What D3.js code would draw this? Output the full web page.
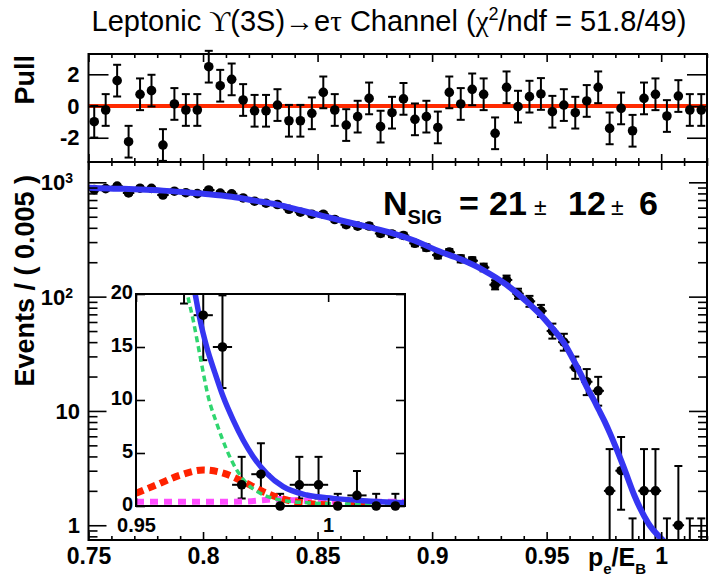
<!DOCTYPE html>
<html>
<head>
<meta charset="utf-8">
<script src="https://cdn.jsdelivr.net/npm/d3@7"></script>
<style>
  body { margin: 0; background: #fff; }
  svg { display: block; }
  text { font-family: "Liberation Sans", Arial, Helvetica, sans-serif; fill: #000; }
</style>
</head>
<body>
<svg id="chart" width="711" height="581"></svg>
<script>
// Histogram: 54 bins of 0.005 from 0.75 to 1.02
const xMin = 0.75, xMax = 1.02, binWidth = 0.005;

const counts = [863, 880, 926, 807, 888, 885, 774, 836, 811, 796,
                858, 806, 794, 730, 684, 657, 640, 581, 548, 526,
                526, 473, 426, 414, 415, 357, 352, 343, 293, 269,
                231, 245, 214, 206, 180, 127, 140, 106, 91, 75,
                50, 40, 24, 18, 15, 2, 3, 0, 2, 2,
                0, 1, 0, 0];

const pulls = [-0.99, -0.25, 1.6, -2.25, 0.74, 0.97, -2.46, 0.13, -0.25, -0.25,
               2.48, 1.28, 1.68, 0.38, -0.3, -0.3, 0.06, -0.93, -0.93, -0.46,
               0.86, -0.25, -1.2, -0.67, 0.48, -1.3, -0.42, 0.45, -0.84, -0.67,
               -1.35, 0.86, 0.13, 1.05, 0.74, -1.72, 1.18, -0.04, 0.59, 0.76,
               -0.36, 0.06, -0.42, 0.32, 1.18, -1.41, -0.15, -1.56, 0.48, 0.74,
               -0.63, 0.63, -0.25, -0.25];

// total fit (blue)
const fitX = [0.75, 0.7525, 0.7625, 0.7725, 0.7825, 0.7925, 0.8025, 0.8125, 0.8225, 0.8325,
              0.8425, 0.8525, 0.8625, 0.8725, 0.8825, 0.8925, 0.9025, 0.9125, 0.9225, 0.9325,
              0.9425, 0.9475, 0.9525, 0.9575, 0.9625, 0.9654, 0.9667, 0.9684, 0.9706, 0.9727,
              0.9753, 0.9779, 0.9805, 0.984, 0.9883, 0.9944, 1.0013, 1.0091, 1.02];
const fitY = [898, 893, 880, 866, 846, 818, 788, 748, 692, 638,
              570, 507, 452, 405, 360, 308, 252, 212, 170, 127,
              86, 69, 53, 39.5, 26, 20, 17.5, 15, 12.5, 10.3,
              8.1, 6.2, 4.65, 3.08, 1.82, 1.04, 0.72, 0.5, 0.3];

// background (green dashed)
const bkgX = [0.96, 0.9634, 0.9649, 0.9667, 0.9688, 0.971, 0.9736, 0.9762, 0.9788, 0.9823, 0.9875, 0.9944, 1.0048, 1.02];
const bkgY = [30, 20, 17.5, 14.1, 10.3, 7.8, 5.3, 3.4, 2.14, 1.2, 0.57, 0.31, 0.19, 0.1];

// signal (red dashed)
const sigX = [0.95, 0.9554, 0.9614, 0.9675, 0.9727, 0.9779, 0.9831, 0.9892, 0.9961, 1.005, 1.02];
const sigY = [1.2, 2.0, 2.9, 3.4, 3.1, 2.3, 1.35, 0.57, 0.19, 0.05, 0.0];

// peaking component (magenta dashed)
const magX = [0.95, 0.96, 0.97, 0.978, 0.983, 0.987, 0.991, 0.996, 1.005, 1.02];
const magY = [0.4, 0.4, 0.4, 0.42, 0.55, 0.65, 0.55, 0.45, 0.4, 0.4];

// tick labels
const xMajor = [0.75, 0.8, 0.85, 0.9, 0.95, 1.0];
const xLabels = ['0.75', '0.8', '0.85', '0.9', '0.95', '1'];
const yMainTicks = [1, 10, 100, 1000];
const yMainBase = ['1', '10', '10', '10'];
const yMainExp = ['', '', '2', '3'];
const pullTicks = [-2, 0, 2];
const insetYTicks = [0, 5, 10, 15, 20];
const insetXTicks = [0.95, 1.0];
const insetXLabels = ['0.95', '1'];

// Poisson error bars (RooFit style)
const lowErr = [0, 0.827, 1.291, 1.633];
const highErr = [1.148, 2.299, 2.637, 2.918];
function poissonErr(n) {
    if (n < 4) return { lo: lowErr[n], hi: highErr[n] };
    const s = Math.sqrt(n);
    return { lo: s, hi: s + 1 };
}

const bins = counts.map((n, i) => ({
    lo: xMin + i * binWidth,
    hi: xMin + (i + 1) * binWidth,
    c: xMin + (i + 0.5) * binWidth,
    n: n,
    pull: pulls[i],
    err: poissonErr(n)
}));

const svg = d3.select('#chart');

const frameL = 88.5, frameR = 707;
const pullTop = 54, mainTop = 162, mainBottom = 540;
const inset = { l: 136, r: 405, t: 294, b: 506 };

const x = d3.scaleLinear().domain([xMin, xMax]).range([frameL, frameR]);
const yMain = d3.scaleLog().domain([0.743, 1506]).range([mainBottom, mainTop]);
const yPull = d3.scaleLinear().domain([-3.53, 3.28]).range([mainTop, pullTop]);
const xIn = d3.scaleLinear().domain([0.95, 1.02]).range([inset.l, inset.r]);
const yIn = d3.scaleLinear().domain([0, 20]).range([inset.b, inset.t]);

const defs = svg.append('defs');
defs.append('clipPath').attr('id', 'clipMain')
    .append('rect').attr('x', frameL).attr('y', mainTop)
    .attr('width', frameR - frameL).attr('height', mainBottom - mainTop);
defs.append('clipPath').attr('id', 'clipInset')
    .append('rect').attr('x', inset.l).attr('y', inset.t)
    .attr('width', inset.r - inset.l).attr('height', inset.b - inset.t);

// tick helper: ticks drawn inside the frame
function drawTicks(axis, pos, values, size, horizontal) {
    const g = svg.append('g')
        .attr('transform', horizontal ? `translate(0,${pos})` : `translate(${pos},0)`)
        .call(axis.tickValues(values).tickSize(-size).tickFormat(''));
    g.select('.domain').remove();
    g.selectAll('line').attr('stroke', '#000').attr('stroke-width', 1.6);
    return g;
}

const cap = 4;
function errorBars(g, data, xs, getLo, getHi, getY) {
    const bars = g.append('g').attr('stroke', '#000').attr('stroke-width', 2);
    data.forEach(d => {
        const cx = xs(d.c);
        const yLo = getLo(d), yHi = getHi(d);
        bars.append('line').attr('x1', cx).attr('x2', cx).attr('y1', yLo).attr('y2', yHi);
        bars.append('line').attr('x1', cx - cap).attr('x2', cx + cap).attr('y1', yHi).attr('y2', yHi);
        if (d.capLo !== false) {
            bars.append('line').attr('x1', cx - cap).attr('x2', cx + cap).attr('y1', yLo).attr('y2', yLo);
        }
        const cy = getY ? getY(d) : null;
        if (cy !== null) {
            bars.append('line').attr('x1', xs(d.lo)).attr('x2', xs(d.hi))
                .attr('y1', cy).attr('y2', cy);
        }
    });
}

// ---------- Pull panel ----------
svg.append('line')
    .attr('x1', frameL).attr('x2', frameR)
    .attr('y1', yPull(0)).attr('y2', yPull(0))
    .attr('stroke', '#ff2a00').attr('stroke-width', 4);

const pullG = svg.append('g');
errorBars(pullG, bins, x, d => yPull(d.pull - 1), d => yPull(d.pull + 1), null);
pullG.append('g').selectAll('circle').data(bins).join('circle')
    .attr('cx', d => x(d.c)).attr('cy', d => yPull(d.pull)).attr('r', 4.8).attr('fill', '#000');

svg.append('rect')
    .attr('x', frameL).attr('y', pullTop)
    .attr('width', frameR - frameL).attr('height', mainTop - pullTop)
    .attr('fill', 'none').attr('stroke', '#000').attr('stroke-width', 2);

const xMinor = x.ticks(27).filter(v => !xMajor.some(m => Math.abs(m - v) < 1e-6));
drawTicks(d3.axisBottom(x), mainTop, xMajor, 8, true);
drawTicks(d3.axisBottom(x), mainTop, xMinor, 4, true);
drawTicks(d3.axisTop(x), pullTop, xMajor, 8, true);
drawTicks(d3.axisTop(x), pullTop, xMinor, 4, true);

const pullLeft = svg.append('g')
    .attr('transform', `translate(${frameL},0)`)
    .call(d3.axisLeft(yPull).tickValues(pullTicks).tickSize(-20).tickPadding(9).tickFormat(d => String(d)));
pullLeft.select('.domain').remove();
pullLeft.selectAll('line').attr('stroke', '#000').attr('stroke-width', 1.6);
pullLeft.selectAll('text').style('font-size', '22px').style('font-weight', 'bold')
    .attr('font-family', null);
drawTicks(d3.axisRight(yPull), frameR, pullTicks, 20, false);

svg.append('text')
    .attr('transform', `translate(34,${pullTop + 1}) rotate(-90)`)
    .attr('text-anchor', 'end')
    .style('font-size', '27px').style('font-weight', 'bold')
    .text('Pull');

// ---------- Main panel ----------
const mainG = svg.append('g').attr('clip-path', 'url(#clipMain)');
const mainBins = bins.map(d => Object.assign({}, d, { capLo: d.n - d.err.lo > 0.743 }));
errorBars(mainG, mainBins, x,
    d => d.n - d.err.lo > 0.743 ? yMain(d.n - d.err.lo) : mainBottom,
    d => yMain(d.n + d.err.hi),
    d => d.n > 0 ? yMain(d.n) : null);
mainG.append('g').selectAll('circle').data(bins.filter(d => d.n > 0)).join('circle')
    .attr('cx', d => x(d.c)).attr('cy', d => yMain(d.n)).attr('r', 4.8).attr('fill', '#000');

const fitPts = fitX.map((v, i) => [v, fitY[i]]);
mainG.append('path')
    .attr('d', d3.line().x(d => x(d[0])).y(d => yMain(d[1])).curve(d3.curveMonotoneX)(fitPts))
    .attr('fill', 'none').attr('stroke', '#3535f2').attr('stroke-width', 6);

svg.append('rect')
    .attr('x', frameL).attr('y', mainTop)
    .attr('width', frameR - frameL).attr('height', mainBottom - mainTop)
    .attr('fill', 'none').attr('stroke', '#000').attr('stroke-width', 2);

drawTicks(d3.axisTop(x), mainTop, xMajor, 8, true);
drawTicks(d3.axisTop(x), mainTop, xMinor, 4, true);
const xBottom = svg.append('g')
    .attr('transform', `translate(0,${mainBottom})`)
    .call(d3.axisBottom(x).tickValues(xMajor).tickSize(-8).tickPadding(8)
        .tickFormat((d, i) => xLabels[i]));
xBottom.select('.domain').remove();
xBottom.selectAll('line').attr('stroke', '#000').attr('stroke-width', 1.6);
xBottom.selectAll('text').style('font-size', '23px').style('font-weight', 'bold')
    .attr('font-family', null);
drawTicks(d3.axisBottom(x), mainBottom, xMinor, 4, true);

const yMinor = yMain.ticks().filter(v => !yMainTicks.includes(v));
drawTicks(d3.axisLeft(yMain), frameL, yMainTicks, 18, false);
drawTicks(d3.axisLeft(yMain), frameL, yMinor, 9, false);
drawTicks(d3.axisRight(yMain), frameR, yMainTicks, 18, false);
drawTicks(d3.axisRight(yMain), frameR, yMinor, 9, false);

const yLab = svg.append('g');
yMainTicks.forEach((v, i) => {
    const t = yLab.append('text')
        .attr('x', yMainExp[i] ? 73 : 80)
        .attr('y', yMain(v))
        .attr('dy', '0.36em')
        .attr('text-anchor', 'end')
        .style('font-size', '22px').style('font-weight', 'bold');
    t.append('tspan').text(yMainBase[i]);
    if (yMainExp[i]) {
        t.append('tspan').attr('dy', '-0.5em').style('font-size', '14px').text(yMainExp[i]);
    }
});

svg.append('text')
    .attr('transform', `translate(34,${mainTop + 13}) rotate(-90)`)
    .attr('text-anchor', 'end')
    .style('font-size', '27px').style('font-weight', 'bold')
    .text('Events / ( 0.005 )');

const xTitle = svg.append('text')
    .attr('x', 646).attr('y', 566)
    .attr('text-anchor', 'end')
    .style('font-size', '25px').style('font-weight', 'bold');
xTitle.append('tspan').text('p');
xTitle.append('tspan').attr('dy', 8).style('font-size', '15px').text('e');
xTitle.append('tspan').attr('dy', -8).text('/E');
xTitle.append('tspan').attr('dy', 8).style('font-size', '15px').text('B');

// N_SIG annotation, pieces placed like the TLatex layout
const nsig = svg.append('text')
    .attr('y', 215)
    .style('font-size', '34px').style('font-weight', 'bold');
nsig.append('tspan').attr('x', 383).text('N');
nsig.append('tspan').attr('dy', 9).style('font-size', '20px').text('SIG');
nsig.append('tspan').attr('x', 459).attr('dy', -9).text('=');
nsig.append('tspan').attr('x', 489).text('21');
nsig.append('tspan').attr('x', 534).style('font-size', '23px').style('font-weight', 'normal').text('±');
nsig.append('tspan').attr('x', 568).text('12');
nsig.append('tspan').attr('x', 611).style('font-size', '23px').style('font-weight', 'normal').text('±');
nsig.append('tspan').attr('x', 639).text('6');

// ---------- Inset ----------
svg.append('rect')
    .attr('x', inset.l).attr('y', inset.t)
    .attr('width', inset.r - inset.l).attr('height', inset.b - inset.t)
    .attr('fill', '#fff');

const inBins = bins.filter(d => d.c > 0.95 && d.c < 1.02);
const inG = svg.append('g').attr('clip-path', 'url(#clipInset)');
errorBars(inG, inBins.map(d => Object.assign({}, d, { capLo: d.n > 0 })), xIn,
    d => yIn(Math.max(d.n - d.err.lo, 0)), d => yIn(d.n + d.err.hi), d => yIn(d.n));

const curveIn = d3.line().x(d => xIn(d[0])).y(d => yIn(d[1])).curve(d3.curveMonotoneX);
inG.append('path')
    .attr('d', curveIn(magX.map((v, i) => [v, magY[i]])))
    .attr('fill', 'none').attr('stroke', '#ff4dff').attr('stroke-width', 6)
    .attr('stroke-dasharray', '8,6');
inG.append('path')
    .attr('d', curveIn(sigX.map((v, i) => [v, sigY[i]])))
    .attr('fill', 'none').attr('stroke', '#ff2200').attr('stroke-width', 7)
    .attr('stroke-dasharray', '8,5');
inG.append('path')
    .attr('d', curveIn(bkgX.map((v, i) => [v, bkgY[i]])))
    .attr('fill', 'none').attr('stroke', '#2fd66f').attr('stroke-width', 3.5)
    .attr('stroke-dasharray', '6,4');
inG.append('path')
    .attr('d', curveIn(fitPts.filter(d => d[0] >= 0.96)))
    .attr('fill', 'none').attr('stroke', '#3535f2').attr('stroke-width', 5.5);

svg.append('g').selectAll('circle').data(inBins.filter(d => d.n <= 20)).join('circle')
    .attr('cx', d => xIn(d.c)).attr('cy', d => yIn(d.n)).attr('r', 4.8).attr('fill', '#000');

svg.append('rect')
    .attr('x', inset.l).attr('y', inset.t)
    .attr('width', inset.r - inset.l).attr('height', inset.b - inset.t)
    .attr('fill', 'none').attr('stroke', '#000').attr('stroke-width', 2);

const inLeft = svg.append('g')
    .attr('transform', `translate(${inset.l},0)`)
    .call(d3.axisLeft(yIn).tickValues(insetYTicks).tickSize(-9).tickPadding(3));
inLeft.select('.domain').remove();
inLeft.selectAll('line').attr('stroke', '#000').attr('stroke-width', 1.6);
inLeft.selectAll('text').style('font-size', '20px').style('font-weight', 'bold')
    .attr('font-family', null).attr('dy', '0.22em');
drawTicks(d3.axisRight(yIn), inset.r, insetYTicks, 9, false);
const inBottom = svg.append('g')
    .attr('transform', `translate(0,${inset.b})`)
    .call(d3.axisBottom(xIn).tickValues(insetXTicks).tickSize(-8).tickPadding(12)
        .tickFormat((d, i) => insetXLabels[i]));
inBottom.select('.domain').remove();
inBottom.selectAll('line').attr('stroke', '#000').attr('stroke-width', 1.6);
inBottom.selectAll('text').style('font-size', '20px').style('font-weight', 'bold')
    .attr('font-family', null);
drawTicks(d3.axisTop(xIn), inset.t, insetXTicks, 8, true);

// ---------- Title ----------
const title = svg.append('text')
    .attr('x', 389).attr('y', 31)
    .attr('text-anchor', 'middle')
    .style('font-size', '29px');
title.append('tspan').text('Leptonic ');
title.append('tspan').style('font-family', '"Liberation Serif", "DejaVu Serif", serif').text('ϒ');
title.append('tspan').text('(3S)→e');
title.append('tspan').style('font-family', '"Liberation Serif", "DejaVu Serif", serif').text('τ');
title.append('tspan').text(' Channel  (');
title.append('tspan').style('font-family', '"Liberation Serif", "DejaVu Serif", serif').text('χ');
title.append('tspan').attr('dy', -11).style('font-size', '18px').text('2');
title.append('tspan').attr('dy', 11).text('/ndf = 51.8/49)');
</script>
</body>
</html>
